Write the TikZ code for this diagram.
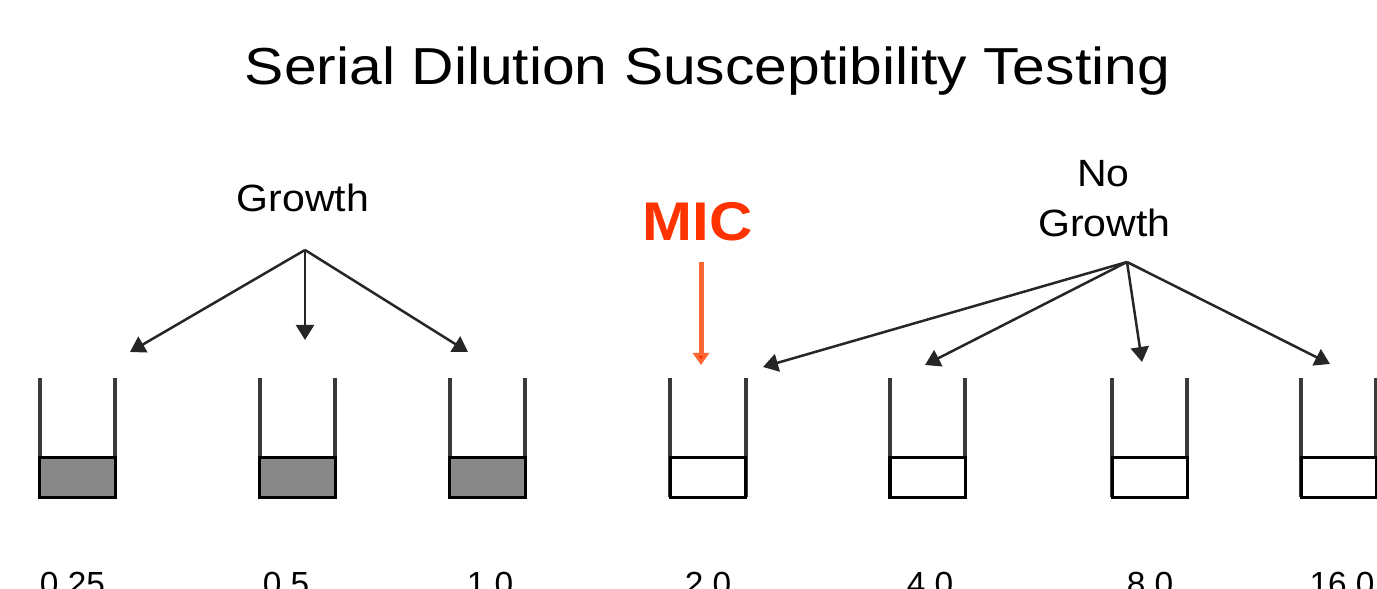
\documentclass[tikz,border=0pt]{standalone}
\usepackage{fontspec}
\setmainfont{Liberation Sans}
\usetikzlibrary{arrows.meta,calc}

\definecolor{micred}{HTML}{FF3300}
\definecolor{micline}{HTML}{FF6633}
\definecolor{growthfill}{HTML}{888888}
\definecolor{wallgray}{HTML}{3A3A3A}

\tikzset{
  tubebody/.style={minimum width=0.75cm, minimum height=1.19cm, inner sep=0pt, outer sep=0pt},
  wall/.style={draw=wallgray, line width=0.04cm},
  liquid/.style={draw=black, line width=0.03cm},
  pointer/.style={draw=black!85, line width=0.025cm, -{Triangle[width=0.18cm,length=0.15cm]}},
  micpointer/.style={draw=micline, line width=0.05cm, -{Triangle[width=0.16cm,length=0.12cm,fill=micred]}},
  conc/.style={font=\fontsize{9.5}{11}\selectfont, inner sep=0pt, anchor=base},
  caption/.style={font=\fontsize{10.8}{14.2}\selectfont, align=center, inner sep=0pt, anchor=base},
}

% one test tube: name, centre x, liquid colour
\newcommand{\tubeat}[3]{%
  \node[tubebody] (#1) at (#2,437.5) {};
  \draw[wall] (#1.north west) -- (#1.south west);
  \draw[wall] (#1.north east) -- (#1.south east);
  \draw[liquid, fill=#3] (#1.south west) rectangle ($(#1.south east)+(0,-40)$);
}

\begin{document}
\begin{tikzpicture}[x=0.01cm, y=-0.01cm]
  \useasboundingbox (0,0) rectangle (1377,589);
  \clip (0,0) rectangle (1377,589);

  % title
  \node[font=\fontsize{14.8}{18}\selectfont, inner sep=0pt, anchor=base] (title) at (707.5,85)
    {\scalebox{1.13}[1]{Serial Dilution Susceptibility Testing}};

  % tubes
  \tubeat{t1}{77.5}{growthfill}
  \tubeat{t2}{297.5}{growthfill}
  \tubeat{t3}{487.5}{growthfill}
  \tubeat{t4}{708}{white}
  \tubeat{t5}{927.5}{white}
  \tubeat{t6}{1149.5}{white}
  \tubeat{t7}{1338.5}{white}

  % concentrations
  \node[conc] (c1) at (72.5,596) {0.25};
  \node[conc] (c2) at (286,596) {0.5};
  \node[conc] (c3) at (490,596) {1.0};
  \node[conc] (c4) at (708,596) {2.0};
  \node[conc] (c5) at (930,596) {4.0};
  \node[conc] (c6) at (1150,596) {8.0};
  \node[conc] (c7) at (1342,596) {16.0};

  % growth group
  \node[caption] (growth) at (303,212) {\scalebox{1.08}[1]{Growth}};
  \coordinate (gsrc) at (305,250);
  \coordinate (g1) at (130,352);
  \coordinate (g2) at (305,340);
  \coordinate (g3) at (468,352);
  \draw[pointer] (gsrc) -- (g1);
  \draw[pointer] (gsrc) -- (g2);
  \draw[pointer] (gsrc) -- (g3);

  % no growth group
  \node[caption] (no) at (1103.5,187) {\scalebox{1.08}[1]{No}};
  \node[caption] (nogrowth) at (1104.5,237) {\scalebox{1.08}[1]{Growth}};
  \coordinate (nsrc) at (1127,262);
  \coordinate (n1) at (763,367);
  \coordinate (n2) at (925,365);
  \coordinate (n3) at (1142,362);
  \coordinate (n4) at (1330,364);
  \draw[pointer] (nsrc) -- (n1);
  \draw[pointer] (nsrc) -- (n2);
  \draw[pointer] (nsrc) -- (n3);
  \draw[pointer] (nsrc) -- (n4);

  % minimum inhibitory concentration
  \node[font=\fontsize{15.5}{18}\selectfont\bfseries, text=micred, inner sep=0pt, anchor=base] (mic) at (697.5,241)
    {\scalebox{1.1}[1]{MIC}};
  \coordinate (msrc) at (701,262);
  \coordinate (mdst) at (701,365);
  \draw[micpointer] (msrc) -- (mdst);
\end{tikzpicture}
\end{document}
